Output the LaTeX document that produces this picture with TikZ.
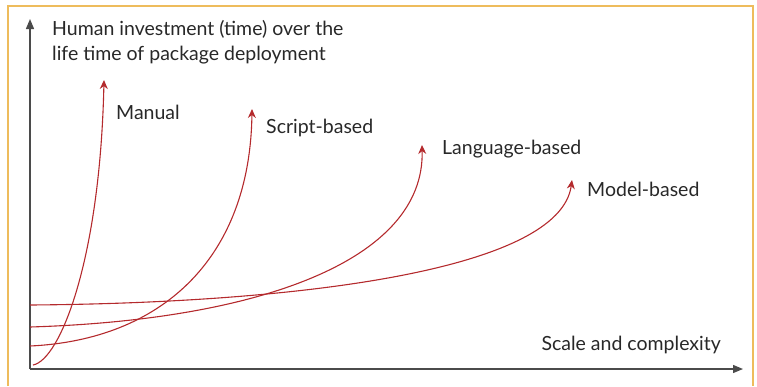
\documentclass[tikz,border=0pt]{standalone}
\usepackage{fontspec}
\setmainfont{Lato}
\usetikzlibrary{arrows.meta}
\definecolor{frameor}{RGB}{238,188,92}
\definecolor{curvered}{RGB}{180,42,45}
\definecolor{axisgray}{RGB}{75,75,75}
\definecolor{txtgray}{RGB}{40,40,40}
\begin{document}
\begin{tikzpicture}[x=1pt,y=-1pt,
  curve/.style={draw=curvered, line width=1.1pt, -{Stealth[length=9pt,width=8pt]}},
  axis/.style={draw=axisgray, line width=1.3pt, -{Triangle[length=10pt,width=8pt]}},
  lbl/.style={font=\fontsize{19.5}{25}\selectfont, text=txtgray, inner sep=0pt, anchor=west},
  every node/.style={inner sep=0pt}]
\useasboundingbox (0,0) rectangle (757,386);
% frame
\draw[frameor, line width=1.5pt] (8,386) -- (8,6) -- (753,6) -- (753,386);
% axes
\coordinate (O) at (30,369);
\coordinate (ytop) at (30,19);
\coordinate (xend) at (743,369);
\draw[axis] (O) -- (ytop);
\draw[axis] (O) -- (xend);
% axis labels
\node[lbl, align=left] (ylab) at (52,42) {Human investment (time) over the\\life time of package deployment};
\node[lbl, anchor=east] (xlab) at (721,345) {Scale and complexity};
% curve end points
\coordinate (m0) at (33,365);  \coordinate (m1) at (104,80);
\coordinate (s0) at (30,346);  \coordinate (s1) at (252,109);
\coordinate (l0) at (30,327);  \coordinate (l1) at (422,145);
\coordinate (d0) at (30,305);  \coordinate (d1) at (572,180);
\draw[curve] (m0) .. controls (60,360) and (100,260) .. (m1);
\draw[curve] (s0) .. controls (160,340) and (250,260) .. (s1);
\draw[curve] (l0) .. controls (260,320) and (425,260) .. (l1);
\draw[curve] (d0) .. controls (300,303) and (560,270) .. (d1);
% labels
\node[lbl] (mlab) at (116,112) {Manual};
\node[lbl] (slab) at (266,128) {Script-based};
\node[lbl] (llab) at (442,149) {Language-based};
\node[lbl] (dlab) at (587,189) {Model-based};
\end{tikzpicture}
\end{document}
